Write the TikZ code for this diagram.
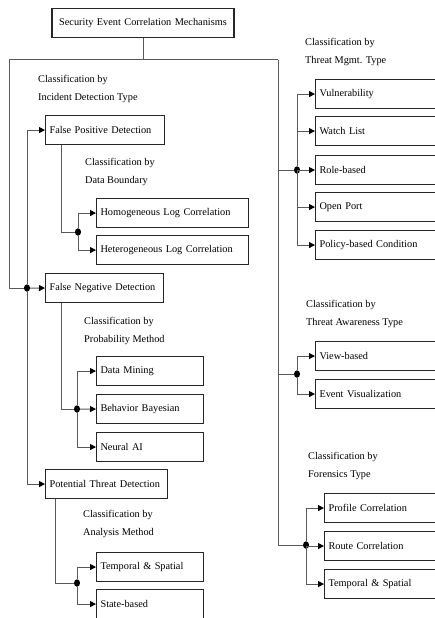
\documentclass[tikz,border=0pt]{standalone}
\usepackage{fontspec}
\setmainfont{Liberation Serif}
\usetikzlibrary{arrows.meta}
\usetikzlibrary{shapes.geometric}
\tikzset{
  box/.style={draw=black!85, line width=1.1pt, anchor=north west, minimum height=29pt, inner xsep=4pt, align=left},
  head/.style={anchor=north west, align=left, inner sep=0pt, font=\fontsize{10.3}{18.5}\selectfont},
  link/.style={draw=black!65, line width=1pt},
  arr/.style={link, -{Triangle[length=6pt,width=6pt,color=black]}},
  dot/.style={ellipse, fill=black, inner sep=0pt, minimum width=6pt, minimum height=7.5pt},
}

\begin{document}
\begin{tikzpicture}[x=1pt, y=-1pt, font=\fontsize{10.3}{12}\selectfont]
  \useasboundingbox (0,0) rectangle (435,618);
  % root
  \node[box, anchor=north, text width=174pt, align=center] (root) at (143,8) {Security Event Correlation Mechanisms};
  \coordinate (tl) at (9,60);
  \coordinate (tr) at (278,60);
  \draw[link] (root.south) -- (root.south |- tl);
  \draw[link] (tl) -- (tr);

  % left: incident detection type
  \node[head] (hInc) at (38,75) {Classification by\\Incident Detection Type};
  \node[box, text width=111pt] (fp) at (45,115) {False Positive Detection};
  \node[box, text width=110pt] (fn) at (45,273) {False Negative Detection};
  \node[box, text width=114pt] (pt) at (45,469) {Potential Threat Detection};
  \node[dot] (jInc) at (27,288) {};
  \draw[link] (tl) |- (jInc);
  \draw[arr] (jInc) -- (fn.west);
  \draw[arr] (jInc) |- (fp.west);
  \draw[arr] (jInc) |- (pt.west);

  % data boundary
  \node[head] (hDat) at (85,158) {Classification by\\Data Boundary};
  \node[box, text width=144pt] (hom) at (96,198) {Homogeneous Log Correlation};
  \node[box, text width=144pt] (het) at (96,235) {Heterogeneous Log Correlation};
  \node[dot] (jDat) at (78,232) {};
  \draw[link] ([xshift=16pt]fp.south west) |- (jDat);
  \draw[arr] (jDat) |- (hom.west);
  \draw[arr] (jDat) |- (het.west);

  % probability method
  \node[head] (hPro) at (84,317) {Classification by\\Probability Method};
  \node[box, text width=99pt] (dm) at (96,356) {Data Mining};
  \node[box, text width=99pt] (bb) at (96,394) {Behavior Bayesian};
  \node[box, text width=99pt] (nai) at (96,432) {Neural AI};
  \node[dot] (jPro) at (77,409) {};
  \draw[link] ([xshift=16pt]fn.south west) |- (jPro);
  \draw[arr] (jPro) |- (dm.west);
  \draw[arr] (jPro) -- (bb.west);
  \draw[arr] (jPro) |- (nai.west);

  % analysis method
  \node[head] (hAna) at (83,510) {Classification by\\Analysis Method};
  \node[box, text width=99pt] (tsL) at (96,552) {Temporal \& Spatial};
  \node[box, text width=99pt] (sb) at (96,589) {State-based};
  \node[dot] (jAna) at (77,583) {};
  \draw[link] ([xshift=10pt]pt.south west) |- (jAna);
  \draw[arr] (jAna) |- (tsL.west);
  \draw[arr] (jAna) |- (sb.west);

  % right: threat mgmt. type
  \node[head] (hMgt) at (305,38) {Classification by\\Threat Mgmt. Type};
  \node[box, text width=117pt] (vul) at (315,79) {Vulnerability};
  \node[box, text width=117pt] (wl) at (315,116) {Watch List};
  \node[box, text width=117pt] (rb) at (315,155) {Role-based};
  \node[box, text width=117pt] (op) at (315,192) {Open Port};
  \node[box, text width=117pt] (pbc) at (315,230) {Policy-based Condition};
  \node[dot] (jMgt) at (297,170) {};
  \draw[link] (tr |- jMgt) -- (jMgt);
  \draw[arr] (jMgt) |- (vul.west);
  \draw[arr] (jMgt) |- (wl.west);
  \draw[arr] (jMgt) |- (rb.west);
  \draw[arr] (jMgt) |- (op.west);
  \draw[arr] (jMgt) |- (pbc.west);

  % threat awareness type
  \node[head] (hAwa) at (306,300) {Classification by\\Threat Awareness Type};
  \node[box, text width=117pt] (vb) at (315,341) {View-based};
  \node[box, text width=117pt] (ev) at (315,379) {Event Visualization};
  \node[dot] (jAwa) at (297,374) {};
  \draw[link] (tr |- jAwa) -- (jAwa);
  \draw[arr] (jAwa) |- (vb.west);
  \draw[arr] (jAwa) |- (ev.west);

  % forensics type
  \node[head] (hFor) at (308,452) {Classification by\\Forensics Type};
  \node[box, text width=108pt] (pc) at (324,493) {Profile Correlation};
  \node[box, text width=108pt] (rc) at (324,531) {Route Correlation};
  \node[box, text width=108pt] (tsR) at (324,569) {Temporal \& Spatial};
  \node[dot] (jFor) at (306,545) {};
  \draw[link] (tr) |- (jFor);
  \draw[arr] (jFor) |- (pc.west);
  \draw[arr] (jFor) |- (rc.west);
  \draw[arr] (jFor) |- (tsR.west);
\end{tikzpicture}
\end{document}
